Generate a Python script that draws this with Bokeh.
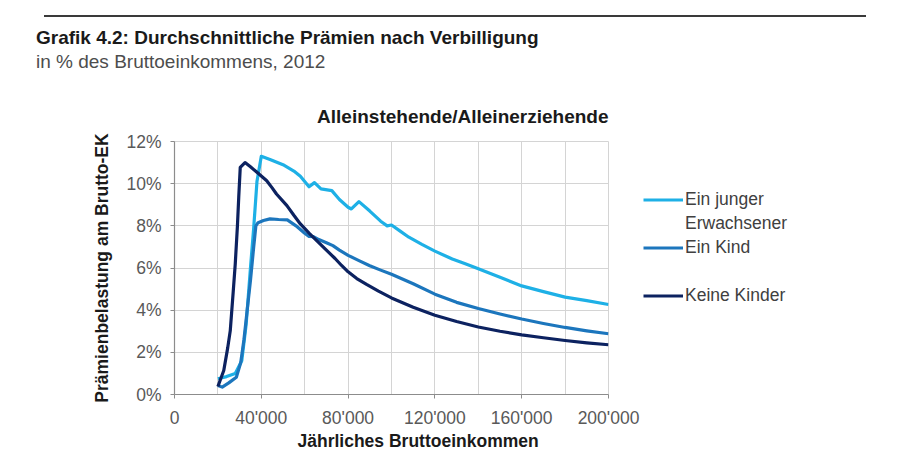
from bokeh.plotting import figure
from bokeh.layouts import column, row
from bokeh.models import Range1d, FixedTicker, Legend, LegendItem, Div, Title
from bokeh.embed import file_html
from bokeh.resources import INLINE

# ---------------- data ----------------
x_jung = [20000, 24000, 28000, 31000, 33000, 35000, 36500, 38000, 40000, 44000,
          50000, 55000, 58000, 62000, 64500, 67500, 72500, 76000, 80000, 81500,
          85000, 90000, 95000, 98000, 100000, 104000, 108000, 114000, 120000,
          128000, 134000, 140000, 150000, 160000, 170000, 180000, 190000, 200000]
y_jung = [0.75, 0.85, 1.0, 1.6, 3.3, 6.0, 7.9, 10.1, 11.3, 11.15,
          10.9, 10.6, 10.35, 9.85, 10.05, 9.75, 9.67, 9.25, 8.88, 8.8,
          9.15, 8.7, 8.22, 8.0, 8.04, 7.75, 7.46, 7.12, 6.8,
          6.43, 6.2, 5.96, 5.56, 5.15, 4.88, 4.62, 4.45, 4.27]

x_kind = [20000, 22000, 25000, 28500, 30500, 32000, 33500, 35000, 36500, 37500,
          38500, 41000, 44000, 48000, 52000, 56000, 60000, 62000, 64000, 66500,
          70000, 73000, 76000, 80000, 85000, 90000, 95000, 100000, 110000,
          120000, 130000, 140000, 150000, 160000, 170000, 180000, 190000, 200000]
y_kind = [0.43, 0.35, 0.55, 0.82, 1.5, 2.6, 4.0, 5.4, 7.0, 8.0,
          8.15, 8.25, 8.33, 8.3, 8.28, 8.0, 7.65, 7.5, 7.49, 7.35,
          7.2, 7.06, 6.85, 6.6, 6.35, 6.11, 5.9, 5.7, 5.25,
          4.76, 4.37, 4.08, 3.82, 3.58, 3.37, 3.18, 3.02, 2.88]

x_keine = [20000, 22700, 24500, 25700, 27000, 28000, 29000, 29600, 30300, 32500,
           35000, 38000, 42500, 45000, 47000, 51800, 55000, 58000, 62000, 66000,
           70000, 74000, 77000, 80000, 84000, 88500, 94000, 100000, 110000,
           120000, 130000, 140000, 150000, 160000, 170000, 180000, 190000, 200000]
y_keine = [0.38, 1.14, 2.2, 3.03, 4.8, 6.2, 8.0, 9.35, 10.77, 11.0,
           10.8, 10.54, 10.14, 9.8, 9.51, 8.96, 8.5, 8.09, 7.65, 7.25,
           6.85, 6.45, 6.12, 5.82, 5.5, 5.22, 4.9, 4.58, 4.14,
           3.76, 3.46, 3.2, 3.0, 2.83, 2.69, 2.56, 2.45, 2.36]

series_names = ["Ein junger", "Ein Kind", "Keine Kinder"]
series_name_line2 = "Erwachsener"
series_colors = ["#1eb0e6", "#1c76bd", "#0c2260"]

x_ticks = [0, 40000, 80000, 120000, 160000, 200000]
x_tick_labels = ["0", "40'000", "80'000", "120'000", "160'000", "200'000"]
x_grid_ticks = [0, 20000, 40000, 60000, 80000, 100000, 120000, 140000,
                160000, 180000, 200000]
y_ticks = [0, 2, 4, 6, 8, 10, 12]
y_tick_labels = ["0%", "2%", "4%", "6%", "8%", "10%", "12%"]

title_text = "Grafik 4.2: Durchschnittliche Prämien nach Verbilligung"
subtitle_text = "in % des Bruttoeinkommens, 2012"
chart_title = "Alleinstehende/Alleinerziehende"
x_label = "Jährliches Bruttoeinkommen"
y_label = "Prämienbelastung am Brutto-EK"

FONT = "Liberation Sans"

# ---------------- header (rule + titles) ----------------
HW, HH = 884, 80
header_html = (
    f'<div style="position:relative;width:{HW}px;height:{HH}px;'
    f'font-family:\'{FONT}\',Arial,sans-serif;">'
    '<div style="position:absolute;left:44px;top:15px;width:822px;height:2px;'
    'background:#3a3a3a;"></div>'
    '<div style="position:absolute;left:36px;top:27px;font-size:19px;'
    'line-height:22px;font-weight:bold;color:#1a1a1a;white-space:nowrap;">'
    f'{title_text}</div>'
    '<div style="position:absolute;left:36px;top:51px;font-size:19px;'
    'line-height:22px;color:#4d4d4d;white-space:nowrap;">'
    f'{subtitle_text}</div>'
    '</div>'
)
head = Div(text=header_html, width=HW, height=HH, margin=0)

# ---------------- chart ----------------
W, H = 642, 374
FL, FR, FT, FB = 174, 608, 61, 314  # frame edges in figure px

p = figure(width=W, height=H, output_backend="svg", toolbar_location=None,
           x_range=Range1d(0, 200000), y_range=Range1d(0, 12),
           min_border_left=FL, min_border_right=W - FR,
           min_border_top=FT, min_border_bottom=H - FB)
p.background_fill_color = "white"
p.border_fill_color = "white"
p.outline_line_color = "#d4d4d4"

p.title.text = chart_title
p.title.align = "right"
p.title.text_font = FONT
p.title.text_font_size = "19px"
p.title.text_font_style = "bold"
p.title.text_color = "#1a1a1a"
p.title.standoff = 30

p.xgrid.ticker = FixedTicker(ticks=x_grid_ticks)
p.ygrid.ticker = FixedTicker(ticks=y_ticks)
for g in (p.xgrid, p.ygrid):
    g.grid_line_color = "#d4d4d4"
    g.grid_line_width = 1

p.xaxis.ticker = FixedTicker(ticks=x_ticks)
p.xaxis.major_label_overrides = {t: l for t, l in zip(x_ticks, x_tick_labels)}
p.yaxis.ticker = FixedTicker(ticks=y_ticks)
p.yaxis.major_label_overrides = {t: l for t, l in zip(y_ticks, y_tick_labels)}
for ax in (p.xaxis, p.yaxis):
    ax.axis_line_color = "#8c8c8c"
    ax.axis_line_width = 1.2
    ax.major_tick_line_color = "#8c8c8c"
    ax.major_tick_in = 0
    ax.major_tick_out = 4
    ax.minor_tick_line_color = None
    ax.major_label_text_font = FONT
    ax.major_label_text_font_size = "17.5px"
    ax.major_label_text_color = "#595959"
    ax.axis_label_text_font = FONT
    ax.axis_label_text_font_size = "17.5px"
    ax.axis_label_text_font_style = "bold"
    ax.axis_label_text_color = "#1a1a1a"
p.xaxis.major_label_standoff = 9
p.yaxis.major_label_standoff = 9
p.yaxis.axis_label = y_label
p.yaxis.axis_label_standoff = 11

# x-axis title (sits right of centre in the original)
p.add_layout(Title(text=x_label, align="left", offset=123, standoff=-4,
                   text_font=FONT, text_font_size="17.5px",
                   text_font_style="bold", text_color="#1a1a1a"), "below")

p.line(x_jung, y_jung, line_color=series_colors[0], line_width=3.2,
       line_join="round")
p.line(x_kind, y_kind, line_color=series_colors[1], line_width=3.2,
       line_join="round")
p.line(x_keine, y_keine, line_color=series_colors[2], line_width=3.2,
       line_join="round")

# ---------------- legend panel ----------------
LW = 258
lf = figure(width=LW, height=H, output_backend="svg", toolbar_location=None,
            x_range=Range1d(0, 1), y_range=Range1d(0, 1),
            x_axis_location=None, y_axis_location=None,
            min_border_left=0, min_border_right=0,
            min_border_top=FT, min_border_bottom=H - FB)
lf.outline_line_color = None
lf.grid.visible = False
lf.border_fill_color = "white"
# same series drawn outside this panel's view; only their legend glyphs show
lr = [lf.line(xs, ys, line_color=c, line_width=3.2)
      for xs, ys, c in zip((x_jung, x_kind, x_keine),
                           (y_jung, y_kind, y_keine), series_colors)]

items = [
    LegendItem(label=series_names[0], renderers=[lr[0]]),
    LegendItem(label=series_name_line2, renderers=[]),
    LegendItem(label=series_names[1], renderers=[lr[1]]),
    LegendItem(label=" ", renderers=[]),
    LegendItem(label=series_names[2], renderers=[lr[2]]),
]
leg = Legend(items=items, location=(1, 88), padding=0, margin=0, spacing=3,
             glyph_width=40, glyph_height=21, label_height=21,
             label_standoff=2,
             border_line_alpha=0, background_fill_alpha=0,
             label_text_font=FONT, label_text_font_size="17.5px",
             label_text_color="#404040", label_text_baseline="middle")
lf.add_layout(leg)

open("out.html", "w").write(
    file_html(column(head, row(p, lf, spacing=0), spacing=0), INLINE))
